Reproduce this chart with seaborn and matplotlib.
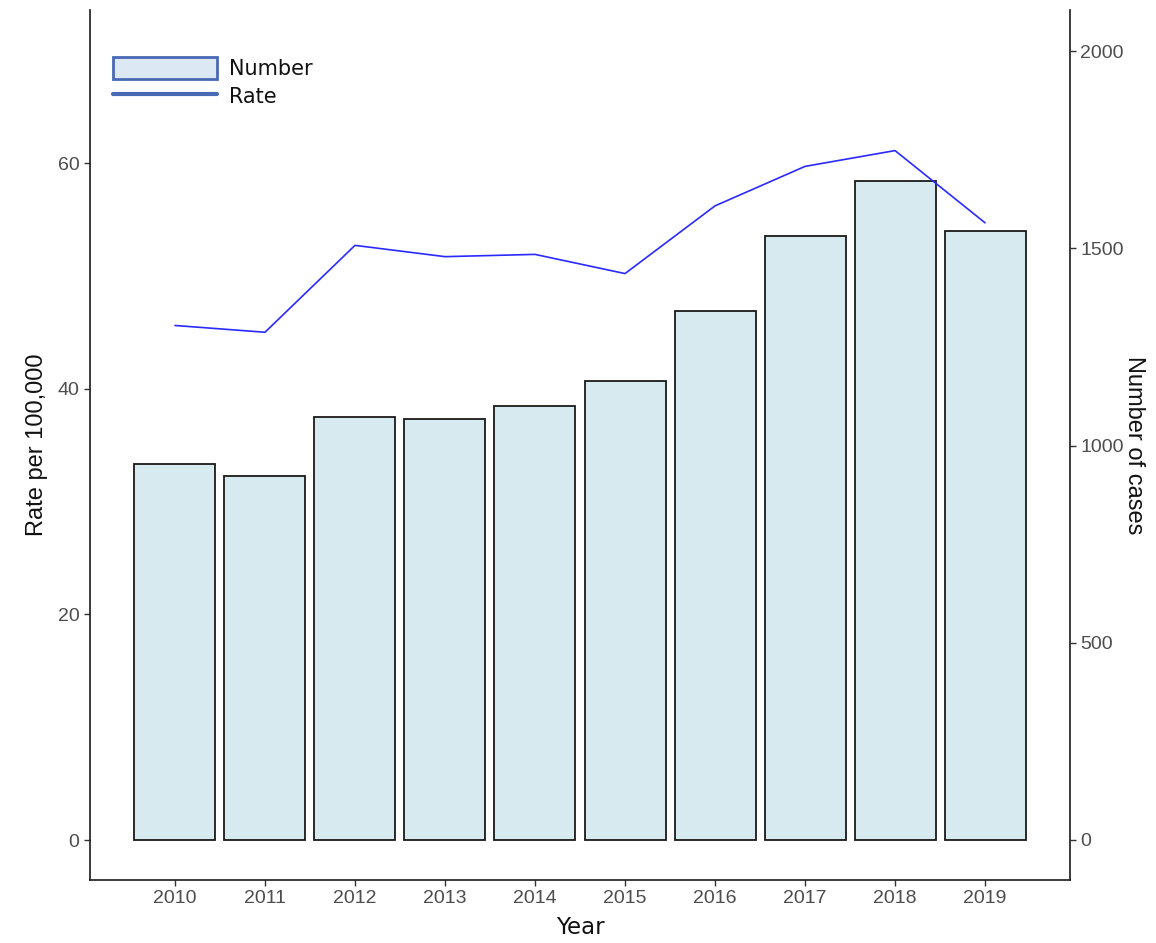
import numpy as np
import pandas as pd
import matplotlib
matplotlib.use("Agg")
import matplotlib.pyplot as plt
from matplotlib.patches import Patch
from matplotlib.lines import Line2D
import seaborn as sns

# Annual series
years = [2010, 2011, 2012, 2013, 2014, 2015, 2016, 2017, 2018, 2019]
cases = [953, 923, 1072, 1067, 1100, 1163, 1341, 1531, 1670, 1544]
rate = [45.6, 45.0, 52.7, 51.7, 51.9, 50.2, 56.2, 59.7, 61.1, 54.7]

rate_ticks = [0, 20, 40, 60]
case_ticks = [0, 500, 1000, 1500, 2000]

df = pd.DataFrame({"Year": years, "Number": cases, "Rate": rate})

sns.set_theme(style="white")
plt.rcParams["font.family"] = ["Liberation Sans", "DejaVu Sans"]

W, H = 1156, 943
fig = plt.figure(figsize=(W / 100, H / 100), dpi=100)
ax = fig.add_axes([90 / W, 1 - 880 / H, (1070 - 90) / W, (880 - 10) / H])
ax2 = ax.twinx()

# bars on the case-count scale, drawn beneath the rate line
sns.barplot(data=df, x="Year", y="Number", ax=ax2, native_scale=True,
            color="#d7eaf0", saturation=1, width=0.9,
            edgecolor="#1a1a1a", linewidth=1.3)
for p in ax2.patches:
    p.set_facecolor("#d7eaf0")

sns.lineplot(data=df, x="Year", y="Rate", ax=ax, color="#2a2aff", linewidth=1.2)

ax.set_zorder(ax2.get_zorder() + 1)
ax.patch.set_visible(False)

ax.set_xlim(2009.056, 2019.944)
ax.set_ylim(-3.545, 73.56)
ax2.set_ylim(-101.4, 2104)

ax.set_xticks(years)
ax.set_xticklabels([str(y) for y in years])
ax.set_yticks(rate_ticks)
ax2.set_yticks(case_ticks)
ax2.set_yticklabels([str(c) for c in case_ticks])

tick_col = "#4d4d4d"
for a in (ax, ax2):
    a.tick_params(axis="both", which="both", length=4.5, width=1.0,
                  color="#333333", labelcolor=tick_col, labelsize=14, pad=3)
    for s in a.spines.values():
        s.set_color("#1a1a1a")
        s.set_linewidth(1.2)
    a.spines["top"].set_visible(False)
    a.grid(False)

ax.spines["right"].set_visible(False)
ax2.spines["left"].set_visible(False)
ax2.spines["bottom"].set_visible(False)
ax2.spines["right"].set_visible(True)
ax.tick_params(axis="y", left=True, right=False)
ax.tick_params(axis="x", bottom=True)
ax2.tick_params(axis="y", right=True, left=False)
ax2.tick_params(axis="x", bottom=False, labelbottom=False)

ax.set_ylabel("Rate per 100,000", fontsize=17, color="#111111", labelpad=7)
ax2.set_ylabel("Number of cases", fontsize=17, color="#111111",
               rotation=270, labelpad=15)
ax.set_xlabel("Year", fontsize=16.5, color="#111111", labelpad=6,
              family=["DejaVu Sans"])
ax2.set_xlabel("")

handles = [
    Patch(facecolor="#dce8f4", edgecolor="#4a69b5", linewidth=2),
    Line2D([0], [0], color="#4a69b5", linewidth=3),
]
leg = fig.legend(handles, ["Number", "Rate"], loc="upper left",
                 bbox_to_anchor=(113 / W, 1 - 57 / H), frameon=False,
                 handlelength=5.0, handleheight=1.25, handletextpad=0.55,
                 labelspacing=0.3, borderpad=0, borderaxespad=0,
                 prop={"family": "DejaVu Sans", "size": 15})
for t in leg.get_texts():
    t.set_color("#111111")

fig.savefig("out.png", dpi=100)
